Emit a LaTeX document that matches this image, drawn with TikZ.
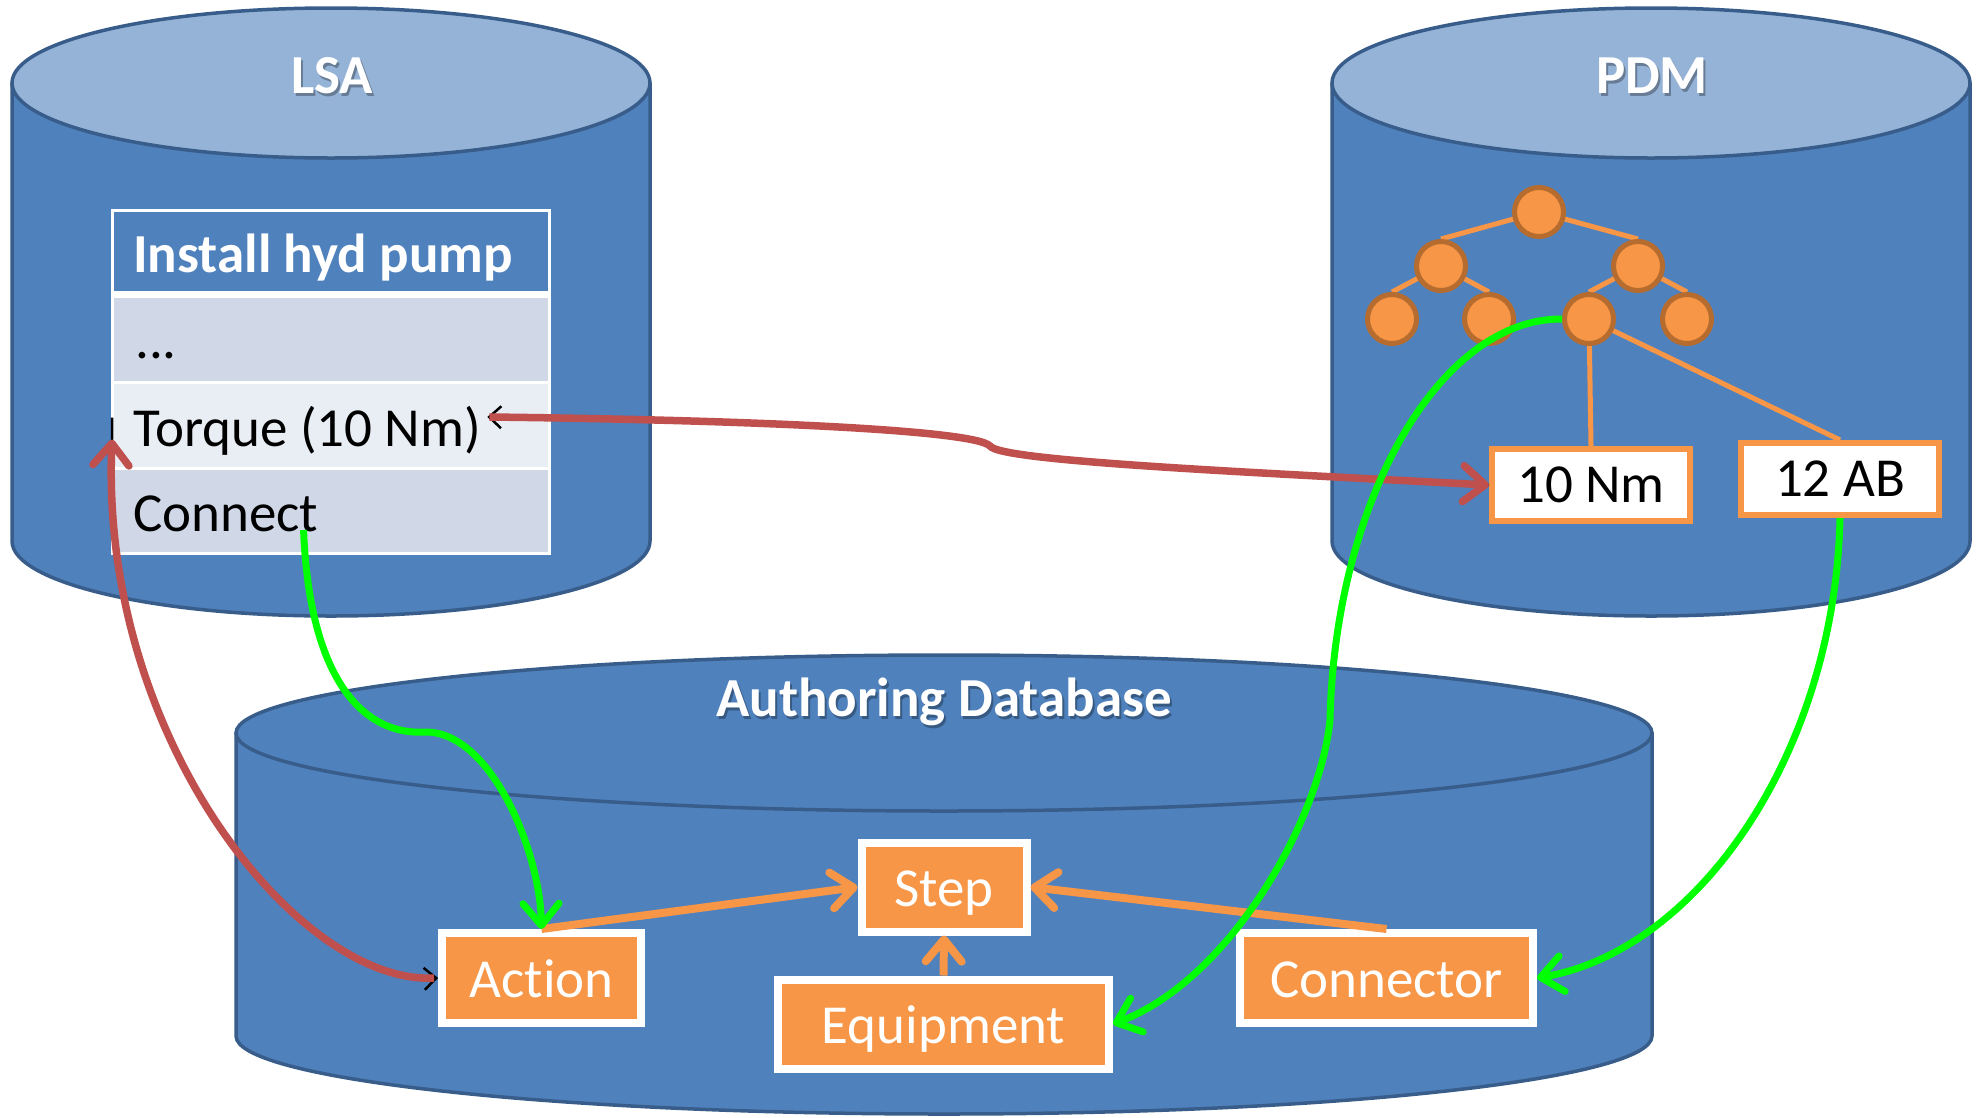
\documentclass[tikz,border=0pt]{standalone}
\usepackage{fontspec}
\setmainfont{Carlito}[Ligatures=NoCommon]
\usetikzlibrary{arrows.meta,shadows}
\definecolor{dbblue}{HTML}{4F81BD}
\definecolor{dbtop}{HTML}{95B3D7}
\definecolor{dbedge}{HTML}{385D8A}
\definecolor{rowdark}{HTML}{D0D8E8}
\definecolor{rowlight}{HTML}{E9EDF4}
\definecolor{accent}{HTML}{F79646}
\definecolor{accentdark}{RGB}{182,108,46}
\definecolor{linkred}{HTML}{C0504D}
\definecolor{linkgreen}{HTML}{00FF00}
\pgfdeclarelayer{drums}
\pgfdeclarelayer{edges}
\pgfsetlayers{drums,edges,main}

% database drum: centre x, top-ellipse y, bottom-ellipse y, x radius, y radius, lid colour
\newcommand\drum[6]{%
  \filldraw[fill=dbblue, draw=dbedge, line width=3.5pt, line join=round]
    ({#1-#4},#2) -- ({#1-#4},#3)
    arc[start angle=180, end angle=360, x radius=#4pt, y radius=#5pt]
    -- ({#1+#4},#2) -- cycle;
  \filldraw[fill=#6, draw=dbedge, line width=3.5pt] (#1,#2) ellipse[x radius=#4pt, y radius=#5pt];
}

\tikzset{
  bigtip/.tip={Straight Barb[length=22pt,width=36pt,round]},
  smalltip/.tip={Straight Barb[length=12pt,width=22pt]},
}

\begin{document}
\begin{tikzpicture}[x=1pt,y=-1pt,
  txt/.style={font=\fontsize{55}{66}\selectfont, inner sep=0pt},
  title/.style={font=\fontsize{55}{66}\selectfont\bfseries, text=white, inner sep=0pt},
  titleshade/.style={title, text=black, opacity=0.3},
  cell/.style={rectangle, inner sep=0pt, outer sep=0pt, minimum width=434pt},
  rowtext/.style={txt, anchor=base west, text=black},
  entity/.style={txt, rectangle, draw=white, line width=8pt, fill=accent, text=white,
    text height=50pt, text depth=11pt,
    drop shadow={shadow xshift=3pt, shadow yshift=-3pt, opacity=0.35, fill=black}},
  valbox/.style={txt, rectangle, draw=accent, line width=6pt, fill=white, text=black},
  leaf/.style={circle, fill=accent, draw=accentdark, line width=5pt, minimum size=49pt, inner sep=0pt},
  treeedge/.style={accent, line width=5pt},
  flow/.style={accent, line width=8pt, -bigtip},
  redlink/.style={linkred, line width=7.5pt},
  redshade/.style={black, line width=2.5pt},
  greenlink/.style={linkgreen, line width=7pt, -bigtip},
]
\useasboundingbox (0,0) rectangle (1977,1117);

% ---------- database drums ----------
\begin{pgfonlayer}{drums}
  \drum{331}{83}{541}{319}{75}{dbtop}
  \drum{1651}{83}{541}{319}{75}{dbtop}
  \drum{944}{733}{1036}{708}{78}{dbblue}
\end{pgfonlayer}

\node[titleshade] (lsashade) at (334,79) {LSA};
\node[title] (lsa) at (332,76) {LSA};
\node[titleshade] (pdmshade) at (1654,79) {PDM};
\node[title] (pdm) at (1652,76) {PDM};
\node[titleshade] (adbshade) at (946,705) {Authoring Database};
\node[title] (adb) at (944,702) {Authoring Database};

% ---------- task table in LSA ----------
\node[cell, fill=white, minimum width=440pt, minimum height=346pt] (table) at (331,382) {};
\node[cell, fill=dbblue, minimum height=79pt] (rhead) at (331,251.5) {};
\node[cell, fill=rowdark, minimum height=83pt] (rdots) at (331,339.5) {};
\node[cell, fill=rowlight, minimum height=83pt] (rtorque) at (331,425.5) {};
\node[cell, fill=rowdark, minimum height=82pt] (rconnect) at (331,511) {};
\node[title, anchor=base west] (head) at (133,272) {Install hyd pump};
\node[rowtext] (dots) at (135,358) {...};
\node[rowtext] (torque) at (133,446) {Torque (10 Nm)};
\node[rowtext] (connect) at (133,531) {Connect};

% ---------- product tree in PDM ----------
\node[leaf] (t0) at (1539,212) {};
\node[leaf] (t1) at (1441,266) {};
\node[leaf] (t2) at (1638,266) {};
\node[leaf] (t3) at (1392,319) {};
\node[leaf] (t4) at (1489,319) {};
\node[leaf] (t5) at (1589,319) {};
\node[leaf] (t6) at (1687,319) {};
\node[valbox, minimum width=198pt, minimum height=72pt] (tennm) at (1591,485) {10 Nm};
\node[valbox, minimum width=198pt, minimum height=72pt] (twelve) at (1840,479) {12 AB};

\begin{pgfonlayer}{edges}
  \draw[treeedge] (t0.center) -- (t1.north);
  \draw[treeedge] (t0.center) -- (t2.north);
  \draw[treeedge] (t1.center) -- (t3.north);
  \draw[treeedge] (t1.center) -- (t4.north);
  \draw[treeedge] (t2.center) -- (t5.north);
  \draw[treeedge] (t2.center) -- (t6.north);
  \draw[treeedge] (t5.center) -- (tennm.north);
  \draw[treeedge] (t5.center) -- (twelve.north);
\end{pgfonlayer}

% ---------- authoring objects ----------
\node[entity, minimum width=165pt, minimum height=89pt] (step) at (944,887) {Step};
\node[entity, minimum width=199pt, minimum height=90pt] (action) at (541.5,978) {Action};
\node[entity, minimum width=331pt, minimum height=89pt] (equip) at (943.5,1024) {Equipment};
\node[entity, minimum width=293pt, minimum height=90pt] (conn) at (1386.5,978) {Connector};

\draw[flow] (action.north) -- (step.west);
\draw[flow] (conn.north) -- (step.east);
\draw[flow] (equip.north) -- (step.south);

% ---------- red links ----------
\draw[redshade, smalltip-, xshift=1.5pt, yshift=-1.5pt]
  ([shift={(6,-29)}]torque.base east) .. controls (750,420) and (975,430) .. (990,446)
  .. controls (1000,460) and (1200,470) .. (tennm.west);
\draw[redlink, -bigtip]
  ([shift={(8,-29)}]torque.base east) .. controls (750,420) and (975,430) .. (990,446)
  .. controls (1000,460) and (1200,470) .. (tennm.west);

\draw[redshade, smalltip-, xshift=2pt, yshift=-1pt]
  (action.west) .. controls (300,985) and (100,740) .. ([shift={(-2,14)}]rtorque.west)
  -- ([shift={(-2,-8)}]rtorque.west);
\draw[redlink, -bigtip]
  ([xshift=-4pt]action.west) .. controls (300,985) and (100,740) .. ([shift={(-2,14)}]rtorque.west);

% ---------- green links ----------
\draw[greenlink] ([shift={(-15,-1)}]connect.base east) .. controls (310,690) and (370,735) .. (424,732)
  .. controls (490,730) and (540,850) .. (action.north);
\draw[greenlink] (t5.west) .. controls (1440,318) and (1335,500) .. (1330,720)
  .. controls (1320,820) and (1230,980) .. (equip.east);
\draw[greenlink] (twelve.south) .. controls (1835,750) and (1700,950) .. (conn.east);
\end{tikzpicture}
\end{document}
